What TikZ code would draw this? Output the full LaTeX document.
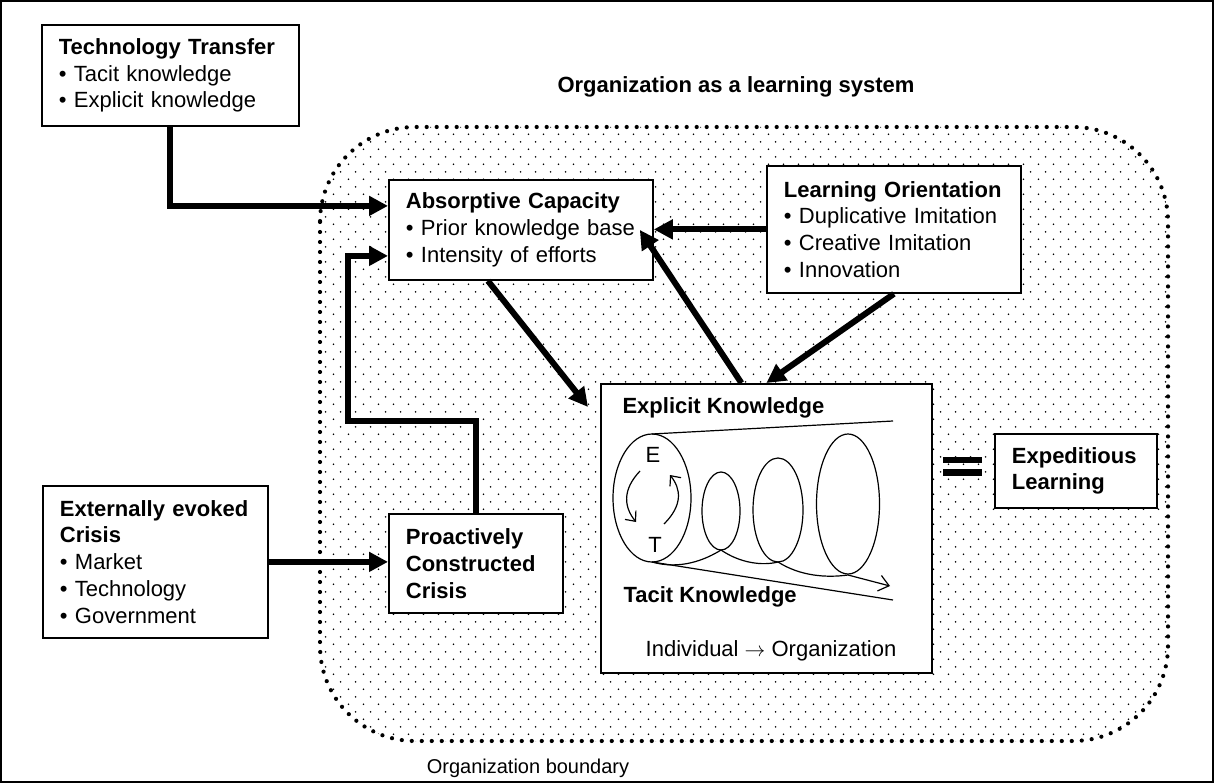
\documentclass[tikz,border=0pt]{standalone}
\usepackage{fontspec}
\setmainfont{Liberation Sans}
\usepackage{tikz}
\usetikzlibrary{arrows.meta,patterns,calc}

\newcommand\bodyfont{\fontsize{22pt}{26.8pt}\selectfont}
\pgfdeclarepatternformonly{orgdots}{\pgfqpoint{0pt}{0pt}}{\pgfqpoint{15pt}{15.4pt}}{\pgfqpoint{15pt}{15.4pt}}{%
  \pgfpathcircle{\pgfqpoint{3.75pt}{3.85pt}}{0.95pt}%
  \pgfpathcircle{\pgfqpoint{11.25pt}{11.55pt}}{0.95pt}%
  \pgfusepath{fill}}

\begin{document}
\begin{tikzpicture}[x=1pt,y=-1pt,
    box/.style={draw,line width=1.8pt,fill=white,anchor=north west,align=left,
      inner xsep=17pt,inner ysep=0pt,font=\bodyfont},
    bigarrow/.style={line width=6pt,-{Triangle[length=19pt,width=19pt]}},
    thinline/.style={line width=1.2pt},
    barb/.style={thinline,-{Straight Barb[length=8pt,width=14pt]}}]
       \useasboundingbox(0,0)rectangle(1214,783);
       \draw[line width=1.5pt](1,1)rectangle(1213,782);%外枠

       \fill[pattern=orgdots,rounded corners=95pt](320,127)rectangle(1168,741);%組織の内側
       \draw[line width=4.2pt,line cap=round,dash pattern=on 0pt off 10pt,
           rounded corners=95pt](320,127)rectangle(1168,741);%組織の境界
       \node[anchor=west,font=\bodyfont\bfseries](title)at(554,87){Organization as a learning system};
       \node[font=\fontsize{20pt}{24pt}\selectfont](bnd)at(528,768){Organization boundary};

       \node[box,text width=223pt,minimum height=101pt](tt)at(41,24)
           {\textbf{Technology Transfer}\\\textbullet\ Tacit knowledge\\\textbullet\ Explicit knowledge};
       \node[box,text width=230pt,minimum height=100pt](absorb)at(388,179)
           {\textbf{Absorptive Capacity}\\\textbullet\ Prior knowledge base\\\textbullet\ Intensity of efforts};
       \node[box,text width=220pt,minimum height=127pt](orient)at(766,165)
           {\textbf{Learning Orientation}\\\textbullet\ Duplicative Imitation\\\textbullet\ Creative Imitation\\\textbullet\ Innovation};
       \node[box,text width=191pt,minimum height=152pt](ext)at(42,485)
           {\textbf{Externally evoked}\\\textbf{Crisis}\\\textbullet\ Market\\\textbullet\ Technology\\\textbullet\ Government};
       \node[box,text width=140pt,minimum height=99pt](proact)at(388,513)
           {\textbf{Proactively}\\\textbf{Constructed}\\\textbf{Crisis}};
       \node[box,text width=128pt,minimum height=74pt](expd)at(994,433)
           {\textbf{Expeditious}\\\textbf{Learning}};
       \node[box,minimum width=331pt,minimum height=289pt,inner sep=0pt](know)at(600,383){};%知識の箱

       %知識の螺旋
       \node[anchor=west,font=\bodyfont\bfseries](expl)at(619,408){Explicit Knowledge};
       \node[anchor=west,font=\bodyfont\bfseries](tac)at(620,597){Tacit Knowledge};
       \node[font=\bodyfont](indiv)at(771,651){Individual $\rightarrow$ Organization};
       \draw[thinline](652,434)--(893,421);%上の線
       \draw[thinline](652,562)--(893,600);%下の線
       \draw[thinline](652,498)ellipse[x radius=39pt,y radius=64pt];
       \draw[thinline](721,511)ellipse[x radius=19pt,y radius=39pt];
       \draw[thinline](778,510)ellipse[x radius=25pt,y radius=52pt];
       \draw[thinline](848,504)ellipse[x radius=31.5pt,y radius=70pt];
       \node[font=\bodyfont](e)at(653,455){E};
       \node[font=\bodyfont](t)at(655,545){T};
       \draw[barb](640,471) .. controls (622,490) and (624,507) .. (636,522);
       \draw[barb](664,524) .. controls (683,505) and (681,489) .. (670,475);
       \draw[thinline,-{Straight Barb[length=10pt,width=16pt]}](652,562)
           .. controls (680,570) and (705,560) .. (721,550)
           .. controls (740,563) and (762,566) .. (778,562)
           .. controls (800,576) and (826,578) .. (848,575)--(890,586);

       \draw[line width=6.5pt](943,460)--(982,460);%等号
       \draw[line width=6.5pt](943,472.5)--(982,472.5);

       \coordinate(fb)at(348,421);
       \draw[bigarrow](tt.south)|-([yshift=24pt]absorb.west);
       \draw[bigarrow](proact.north)|-(fb)|-([yshift=-26pt]absorb.west);
       \draw[bigarrow](ext.east)--(ext.east-|proact.west);
       \draw[bigarrow](orient.west)--(orient.west-|absorb.east);
       \draw[bigarrow]([xshift=-33pt]absorb.south)--([xshift=-12pt,yshift=-24pt]know.north west);
       \draw[bigarrow]([xshift=-25pt]know.north)--([xshift=-14pt]absorb.east);
       \draw[bigarrow](orient.south)--(know.north);
\end{tikzpicture}
\end{document}
